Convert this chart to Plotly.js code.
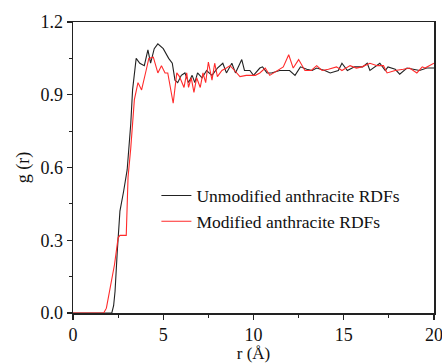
<!DOCTYPE html>
<html>
<head>
<meta charset="utf-8">
<script src="https://cdn.plot.ly/plotly-3.0.1.min.js"></script>
<style>html,body{margin:0;padding:0;background:#fff;}#chart{width:442px;height:363px;}</style>
</head>
<body>
<div id="chart"></div>
<script>
// Unmodified anthracite RDF
const rUnmod = [0, 1.0, 2.0, 2.15, 2.25, 2.33, 2.45, 2.55, 2.6, 2.8, 3.0, 3.2, 3.3, 3.5, 3.7, 3.95, 4.15, 4.3, 4.5, 4.7, 5.0, 5.3, 5.5, 5.65, 5.8, 6.0, 6.2, 6.4, 6.6, 6.75, 6.9, 7.15, 7.4, 7.7, 8.0, 8.3, 8.5, 8.8, 9.0, 9.35, 9.5, 9.8, 10.0, 10.35, 10.5, 10.75, 11.0, 11.45, 12.0, 12.3, 12.6, 12.95, 13.25, 13.5, 13.95, 14.25, 14.7, 14.9, 15.2, 15.6, 16.05, 16.3, 16.45, 17.0, 17.3, 17.45, 17.85, 18.1, 18.5, 18.85, 19.2, 19.6, 20.0];
const gUnmod = [0, 0, 0, 0.0, 0.03, 0.09, 0.25, 0.38, 0.42, 0.5, 0.59, 0.78, 0.92, 1.05, 1.03, 1.02, 1.085, 1.03, 1.09, 1.11, 1.09, 1.05, 1.03, 0.96, 0.95, 0.98, 0.99, 0.95, 0.98, 0.95, 0.99, 0.97, 1.0, 0.98, 1.01, 1.03, 0.99, 1.03, 0.99, 1.045, 1.0, 1.0, 0.98, 1.01, 1.015, 0.99, 0.99, 1.0, 1.0, 0.98, 1.015, 1.005, 1.0, 1.01, 1.0, 0.99, 1.0, 1.03, 1.0, 1.015, 1.015, 1.03, 1.0, 1.03, 1.0, 1.015, 1.005, 0.985, 1.01, 1.005, 1.0, 1.01, 1.01];

// Modified anthracite RDF
const rMod = [0, 1.0, 1.7, 1.85, 2.05, 2.3, 2.5, 2.6, 2.95, 3.05, 3.2, 3.4, 3.6, 3.8, 4.05, 4.2, 4.45, 4.7, 4.9, 5.1, 5.25, 5.35, 5.55, 5.75, 5.9, 6.15, 6.3, 6.4, 6.55, 6.7, 6.85, 7.05, 7.2, 7.35, 7.5, 7.7, 7.85, 8.0, 8.25, 8.5, 8.7, 8.95, 9.25, 9.6, 9.95, 10.1, 10.35, 10.65, 10.9, 11.3, 11.65, 11.95, 12.2, 12.5, 12.85, 13.2, 13.5, 13.8, 14.15, 14.6, 14.9, 15.35, 15.7, 16.0, 16.45, 16.85, 17.2, 17.4, 17.85, 18.3, 18.65, 19.05, 19.35, 19.5, 20.0];
const gMod = [0, 0, 0, 0.02, 0.095, 0.2, 0.31, 0.32, 0.32, 0.56, 0.68, 0.88, 0.95, 0.92, 1.0, 1.05, 1.055, 0.99, 1.02, 0.99, 0.99, 0.95, 0.865, 0.99, 0.975, 0.93, 0.99, 0.93, 0.97, 0.91, 0.97, 0.93, 0.99, 0.95, 1.035, 0.96, 1.03, 0.975, 1.0, 1.01, 1.02, 1.0, 0.975, 0.98, 0.98, 0.98, 0.99, 1.01, 0.98, 1.0, 1.015, 1.065, 1.01, 1.045, 1.0, 1.0, 1.02, 1.0, 1.005, 1.015, 1.0, 1.02, 1.01, 1.015, 1.03, 1.02, 1.02, 0.99, 1.0, 1.005, 1.01, 0.99, 1.015, 1.01, 1.03];

const xTicks = [0, 5, 10, 15, 20];
const yTicks = [0.0, 0.3, 0.6, 0.9, 1.2];
const yTickText = ['0.0', '0.3', '0.6', '0.9', '1.2'];

const font = 'Liberation Serif, Times New Roman, serif';

const traces = [
  {x: rUnmod, y: gUnmod, type: 'scatter', mode: 'lines', name: 'Unmodified anthracite RDFs',
   line: {color: '#222222', width: 1.1}},
  {x: rMod, y: gMod, type: 'scatter', mode: 'lines', name: 'Modified anthracite RDFs',
   line: {color: '#ff2a2a', width: 1.1}}
];

const axisCommon = {
  showgrid: false, zeroline: false, showline: true, linecolor: '#222', linewidth: 1.5,
  mirror: true, ticks: 'outside', ticklen: 5, tickwidth: 1.2, tickcolor: '#222',
  ticklabeloverflow: 'allow',
  tickfont: {family: font, size: 18, color: '#111'}
};

const layout = {
  width: 442, height: 363,
  margin: {l: 73, r: 8, t: 22, b: 50},
  paper_bgcolor: '#fff', plot_bgcolor: '#fff',
  showlegend: true,
  legend: {x: 0.231, y: 0.465, xanchor: 'left', yanchor: 'top', bgcolor: 'rgba(0,0,0,0)',
    font: {family: font, size: 17.5, color: '#111'}, tracegroupgap: 0, itemwidth: 30},
  xaxis: Object.assign({}, axisCommon, {
    range: [0, 20], tickvals: xTicks, ticktext: xTicks.map(String),
    minor: {ticks: 'outside', ticklen: 3, tickwidth: 1, tickcolor: '#222', dtick: 2.5, tick0: 0},
    title: {text: 'r (Å)', font: {family: font, size: 17, color: '#111'}, standoff: 6}
  }),
  yaxis: Object.assign({}, axisCommon, {
    range: [0, 1.2], tickvals: yTicks, ticktext: yTickText,
    minor: {ticks: 'outside', ticklen: 3, tickwidth: 1, tickcolor: '#222', dtick: 0.15, tick0: 0},
    title: {text: 'g (r)', font: {family: font, size: 18, color: '#111'}, standoff: 6}
  })
};

Plotly.newPlot('chart', traces, layout, {displayModeBar: false, staticPlot: true});
</script>
</body>
</html>
